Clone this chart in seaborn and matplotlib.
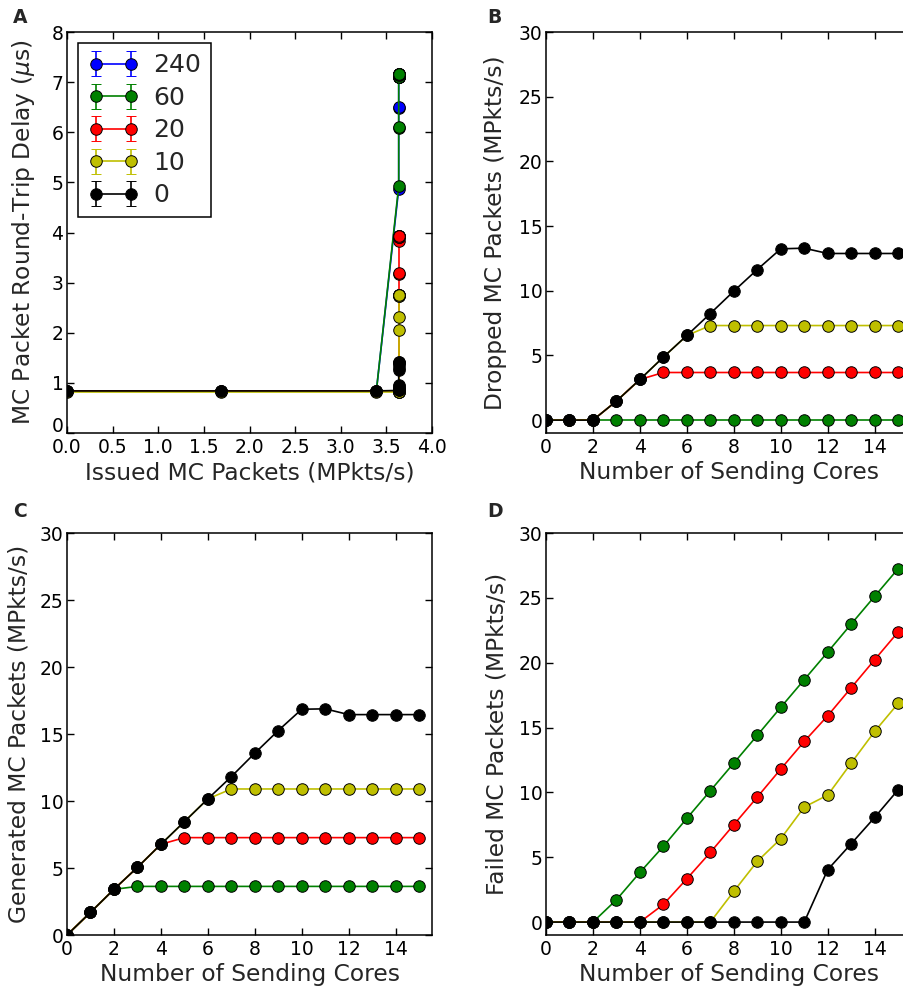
import numpy as np
import pandas as pd
import matplotlib
matplotlib.use("Agg")
import matplotlib.pyplot as plt
from matplotlib.transforms import ScaledTranslation
import seaborn as sns

# ---------------- data ----------------
cores = list(range(16))
issued = [0.0, 1.69, 3.39] + [3.635] * 13

series_labels = ["240", "60", "20", "10", "0"]
series_colors = ["#0000ff", "#008000", "#ff0000", "#bfbf00", "#000000"]

delay_240 = [0.84, 0.84, 0.84, 4.87, 6.48, 6.50, 7.10, 7.12, 7.10, 7.12, 7.11, 7.12, 7.10, 7.11, 7.12, 7.11]
delay_60 = [0.84, 0.84, 0.84, 4.93, 6.08, 6.10, 7.11, 7.17, 7.15, 7.16, 7.17, 7.15, 7.16, 7.17, 7.16, 7.17]
delay_20 = [0.84, 0.84, 0.84, 0.84, 0.85, 3.17, 3.19, 3.84, 3.93, 3.92, 3.93, 3.92, 3.93, 3.93, 3.92, 3.93]
delay_10 = [0.82, 0.82, 0.82, 0.82, 0.82, 0.82, 0.82, 2.05, 2.31, 2.75, 2.75, 2.74, 2.75, 2.75, 2.74, 2.75]
delay_0 = [0.84, 0.84, 0.84, 0.85, 0.86, 0.88, 0.90, 0.93, 0.95, 0.87, 1.26, 1.30, 1.35, 1.42, 1.40, 1.42]

dropped_60 = [0, 0, 0, 0, 0, 0, 0, 0, 0, 0, 0, 0, 0, 0, 0, 0]
dropped_20 = [0, 0, 0, 1.47, 3.14, 3.68, 3.68, 3.68, 3.68, 3.68, 3.68, 3.68, 3.68, 3.68, 3.68, 3.68]
dropped_10 = [0, 0, 0, 1.47, 3.14, 4.87, 6.54, 7.31, 7.31, 7.31, 7.31, 7.31, 7.31, 7.31, 7.31, 7.31]
dropped_0 = [0, 0, 0, 1.47, 3.14, 4.87, 6.54, 8.24, 9.97, 11.64, 13.24, 13.29, 12.88, 12.88, 12.88, 12.88]

generated_60 = [0, 1.69, 3.41, 3.63, 3.63, 3.63, 3.63, 3.63, 3.63, 3.63, 3.63, 3.63, 3.63, 3.63, 3.63, 3.63]
generated_20 = [0, 1.69, 3.41, 5.05, 6.77, 7.27, 7.27, 7.27, 7.27, 7.27, 7.27, 7.27, 7.27, 7.27, 7.27, 7.27]
generated_10 = [0, 1.69, 3.41, 5.05, 6.77, 8.46, 10.16, 10.90, 10.90, 10.90, 10.90, 10.90, 10.90, 10.90, 10.90, 10.90]
generated_0 = [0, 1.69, 3.41, 5.05, 6.77, 8.46, 10.16, 11.82, 13.57, 15.26, 16.85, 16.88, 16.45, 16.45, 16.45, 16.45]

failed_60 = [0, 0, 0, 1.72, 3.83, 5.84, 8.00, 10.13, 12.26, 14.40, 16.56, 18.69, 20.82, 22.98, 25.12, 27.25]
failed_20 = [0, 0, 0, 0, 0, 1.36, 3.34, 5.37, 7.51, 9.64, 11.80, 13.93, 15.91, 18.07, 20.23, 22.37]
failed_10 = [0, 0, 0, 0, 0, 0, 0, 0, 2.37, 4.68, 6.43, 8.87, 9.79, 12.26, 14.70, 16.86]
failed_0 = [0, 0, 0, 0, 0, 0, 0, 0, 0, 0, 0, 0, 4.04, 6.04, 8.07, 10.20]

# ---------------- style ----------------
sns.set_style("ticks")
plt.rcParams["font.family"] = ["DejaVu Sans"]
plt.rcParams["mathtext.fontset"] = "dejavusans"
plt.rcParams["axes.linewidth"] = 1.1
plt.rcParams["axes.edgecolor"] = "black"

TICK_FS = 13.5
LABEL_FS = 16.8
MS = 8.3
LW = 1.2

fig = plt.figure(figsize=(9.04, 9.88), dpi=100)
W = 0.4038
H_top = 0.4059
H_bot = 0.4069
axA = fig.add_axes([0.0741, 0.5617, W, H_top])
axB = fig.add_axes([0.6040, 0.5617, W, H_top])
axC = fig.add_axes([0.0741, 0.0536, W, H_bot])
axD = fig.add_axes([0.6040, 0.0536, W, H_bot])


def draw(ax, x, y, color):
    sns.lineplot(x=x, y=y, ax=ax, color=color, marker="o", markersize=MS,
                 markeredgecolor="k", markeredgewidth=0.7, linewidth=LW,
                 estimator=None, sort=False, errorbar=None, legend=False)


def style(ax, ylab_x):
    ax.tick_params(direction="in", top=True, right=True, length=5, width=1,
                   labelsize=TICK_FS, colors="black")
    ax.tick_params(axis="x", pad=3.5)
    ax.tick_params(axis="y", pad=2.5)
    for s in ax.spines.values():
        s.set_visible(True)
        s.set_linewidth(1.1)
        s.set_color("black")
    ax.xaxis.labelpad = 3
    ax.yaxis.set_label_coords(ylab_x, 0.5)


# Panel A
delays = [delay_240, delay_60, delay_20, delay_10, delay_0]
for d, c in zip(delays, series_colors):
    draw(axA, issued, d, c)
axA.set_xlim(0, 4)
axA.set_ylim(0, 8)
axA.set_xticks(np.arange(0, 4.01, 0.5))
axA.set_xticklabels([f"{v:.1f}" for v in np.arange(0, 4.01, 0.5)])
axA.set_yticks(range(0, 9))
axA.set_xlabel("Issued MC Packets (MPkts/s)", fontsize=LABEL_FS)
axA.set_ylabel(r"MC Packet Round-Trip Delay ($\mu$s)", fontsize=LABEL_FS)
style(axA, -0.082)
# nudge the corner "0" label up a little so it does not collide with "0.0"
lab0 = axA.yaxis.get_major_ticks()[0].label1
lab0.set_transform(lab0.get_transform() + ScaledTranslation(0, 6 / 72, fig.dpi_scale_trans))

handles = []
for c in series_colors:
    h = axA.errorbar([np.nan], [np.nan], yerr=[0.1], fmt="-o", color=c,
                     ecolor=c, mec="k", mew=0.7, ms=MS, lw=LW, capsize=3.5)
    handles.append(h)
leg = axA.legend(handles, series_labels, loc="upper left", numpoints=2,
                 fontsize=18, handlelength=2, labelspacing=0.34,
                 frameon=True, fancybox=False, framealpha=1,
                 edgecolor="black", borderaxespad=0.45, handletextpad=0.6,
                 borderpad=0.4)
leg.get_frame().set_linewidth(1.1)

# Panels B, C, D
panels = [
    (axB, [dropped_60, dropped_20, dropped_10, dropped_0], "Dropped MC Packets (MPkts/s)", (-1, 30), -0.107),
    (axC, [generated_60, generated_20, generated_10, generated_0], "Generated MC Packets (MPkts/s)", (0, 30), -0.101),
    (axD, [failed_60, failed_20, failed_10, failed_0], "Failed MC Packets (MPkts/s)", (-1, 30), -0.104),
]
for ax, ys, lab, ylim, lx in panels:
    for y, c in zip(ys, series_colors[1:]):
        draw(ax, cores, y, c)
    ax.set_xlim(0, 15.55)
    ax.set_ylim(*ylim)
    ax.set_xticks(range(0, 15, 2))
    ax.set_yticks(range(0, 31, 5))
    ax.set_xlabel("Number of Sending Cores", fontsize=LABEL_FS)
    ax.set_ylabel(lab, fontsize=LABEL_FS)
    style(ax, lx)

for letter, x, y in [("A", 0.014, 0.982), ("B", 0.539, 0.982),
                     ("C", 0.014, 0.482), ("D", 0.539, 0.482)]:
    fig.text(x, y, letter, fontsize=13.5, fontweight="bold", va="center", ha="left")

fig.savefig("out.png", dpi=100)
